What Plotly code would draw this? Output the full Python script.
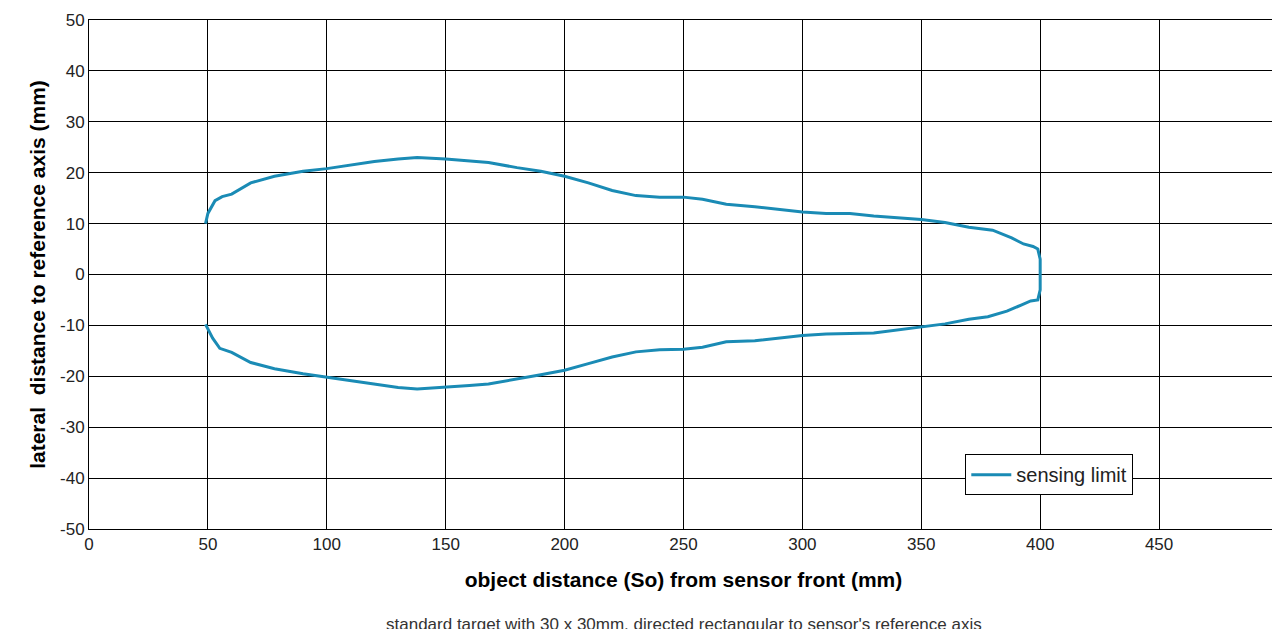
import plotly.graph_objects as go

x_dist = [49, 50, 53, 56, 60, 68, 78, 90, 100, 110, 120, 130, 138, 150, 168, 180, 190, 200, 210, 220, 230, 240, 250, 258, 268, 280, 290, 300, 310, 320, 330, 340, 350, 360, 370, 380, 388, 393, 397, 399, 400, 400, 400,
          399, 396, 392, 386, 378, 370, 360, 350, 340, 330, 320, 310, 300, 290, 280, 268, 258, 250, 240, 230, 220, 210, 200, 190, 180, 168, 160, 150, 138, 130, 120, 110, 100, 90, 78, 68, 60, 55, 52, 49]
y_lat = [10, 12, 14.5, 15.3, 15.8, 18, 19.3, 20.3, 20.8, 21.5, 22.2, 22.7, 23, 22.7, 22, 21, 20.3, 19.3, 18, 16.5, 15.5, 15.2, 15.2, 14.8, 13.8, 13.3, 12.8, 12.3, 12, 12, 11.5, 11.2, 10.8, 10.2, 9.3, 8.7, 7.2, 6, 5.5, 5, 3, 0, -3,
         -5, -5.2, -6, -7.2, -8.3, -8.8, -9.7, -10.3, -10.8, -11.5, -11.6, -11.7, -12, -12.5, -13, -13.2, -14.3, -14.7, -14.8, -15.2, -16.2, -17.5, -18.8, -19.7, -20.5, -21.5, -21.8, -22.1, -22.5, -22.2, -21.5, -20.8, -20.2, -19.5, -18.5, -17.3, -15.3, -14.5, -12.5, -9.8]

x_ticks = list(range(0, 501, 50))
y_ticks = list(range(-50, 51, 10))
y_labels = [str(v) for v in y_ticks]  # guion normal en vez de signo menos

fig = go.Figure()

fig.add_trace(go.Scatter(
    x=x_dist,
    y=y_lat,
    mode='lines',
    name="sensing limit",
    showlegend=True,
    line=dict(color="#1a8bb5", width=3),
))

fig.update_layout(width=1280,
                height=629,
                font=dict(family="Liberation Sans, Arial", size=17, color="#222"),
                xaxis=dict(
                    title=dict(text="<b>object distance (So) from sensor front (mm)</b>", font=dict(size=21, color="black"), standoff=18),
                    range=[0, 500.01], tickvals=x_ticks, showgrid=True, gridcolor="black", gridwidth=1,
                    showline=True, linecolor="black", mirror=True, zeroline=False, automargin=False),
                yaxis=dict(
                    title=dict(text="<b>lateral  distance to reference axis (mm)</b>", font=dict(size=21, color="black"), standoff=8),
                    range=[-50, 50], tickvals=y_ticks, ticktext=y_labels, showgrid=True, gridcolor="black", gridwidth=1,
                    showline=True, linecolor="black", mirror=True, zeroline=False, automargin=False),
                plot_bgcolor='white',  # Fondo del área del gráfico
                paper_bgcolor='white',
                legend=dict(
                    x=0.737, y=0.147, xanchor="left", yanchor="top",
                    bordercolor="black", borderwidth=1, bgcolor="white",
                    font=dict(size=20), itemwidth=40, entrywidth=220),
                annotations=[dict(
                    text="standard target with 30 x 30mm, directed rectangular to sensor's reference axis",
                    xref="paper", yref="paper", x=0.5, y=-0.165, yanchor="top",
                    showarrow=False, font=dict(size=17, color="#333"))],
                margin=dict(
                    l=81,  # Márgen izquierdo
                    r=10,  # Márgen derecho
                    t=12,  # Márgen superior
                    b=108  # Márgen inferior
    )
                )

fig.write_html("out.html")
